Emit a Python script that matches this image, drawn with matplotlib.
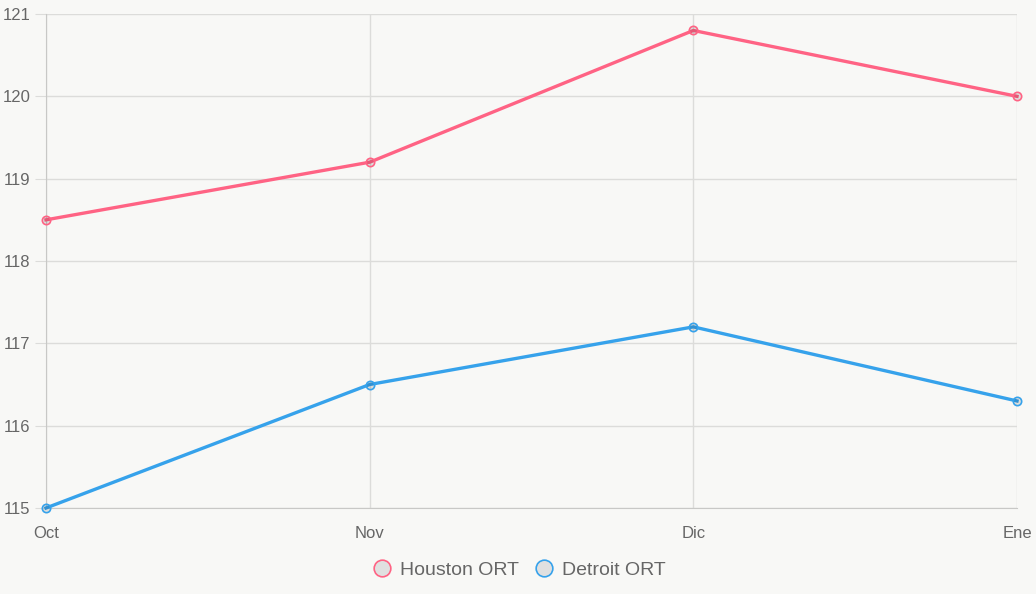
import matplotlib
matplotlib.use("Agg")
import matplotlib.pyplot as plt
from matplotlib.lines import Line2D

months = ["Oct", "Nov", "Dic", "Ene"]
houston = [118.5, 119.2, 120.8, 120.0]
detroit = [115.0, 116.5, 117.2, 116.3]
series_names = ["Houston ORT", "Detroit ORT"]
colors = ["#ff6384", "#36a2eb"]
yticks = [115, 116, 117, 118, 119, 120, 121]

plt.rcParams['font.family'] = ['Liberation Sans', 'DejaVu Sans']
bg = "#f8f8f6"
fig = plt.figure(figsize=(10.36, 5.94), dpi=100, facecolor=bg)
ax = fig.add_axes([46/1036, (594-508)/594, (1017-46)/1036, (508-14)/594])
ax.set_facecolor(bg)

x = list(range(len(months)))
for vals, c in zip([houston, detroit], colors):
    ax.plot(x, vals, color=c, lw=2.4, marker='o', ms=6, mfc=(0, 0, 0, 0.1),
            mec=c, mew=1.2, zorder=3, solid_joinstyle='miter', clip_on=False)

ax.set_xlim(0, len(months) - 1)
ax.set_ylim(115, 121)
ax.set_xticks(x)
ax.set_xticklabels(months)
ax.set_yticks(yticks)
ax.set_yticklabels([str(t) for t in yticks])
grid_c = "#dcdcda"
ax.grid(True, color=grid_c, lw=1)
ax.set_axisbelow(True)
for s in ax.spines.values():
    s.set_visible(False)
ax.spines['left'].set_visible(True)
ax.spines['bottom'].set_visible(True)
ax.spines['left'].set_color("#c8c8c6")
ax.spines['bottom'].set_color("#c8c8c6")
ax.tick_params(axis='y', colors=grid_c, labelcolor="#666666", labelsize=12, length=8, pad=3)
ax.tick_params(axis='x', colors=grid_c, labelcolor="#666666", labelsize=12, length=0, pad=13)

handles = [Line2D([], [], ls='none', marker='o', ms=12, mfc="#e0e0e0", mec=c, mew=1.2)
           for c in colors]
fig.legend(handles, series_names, loc='center', bbox_to_anchor=(0.5, 1 - 570/594),
           ncol=2, frameon=False, fontsize=14, labelcolor="#666666",
           handletextpad=0.3, columnspacing=0.7, handlelength=1.2)

fig.savefig("out.png", dpi=100, facecolor=bg)
